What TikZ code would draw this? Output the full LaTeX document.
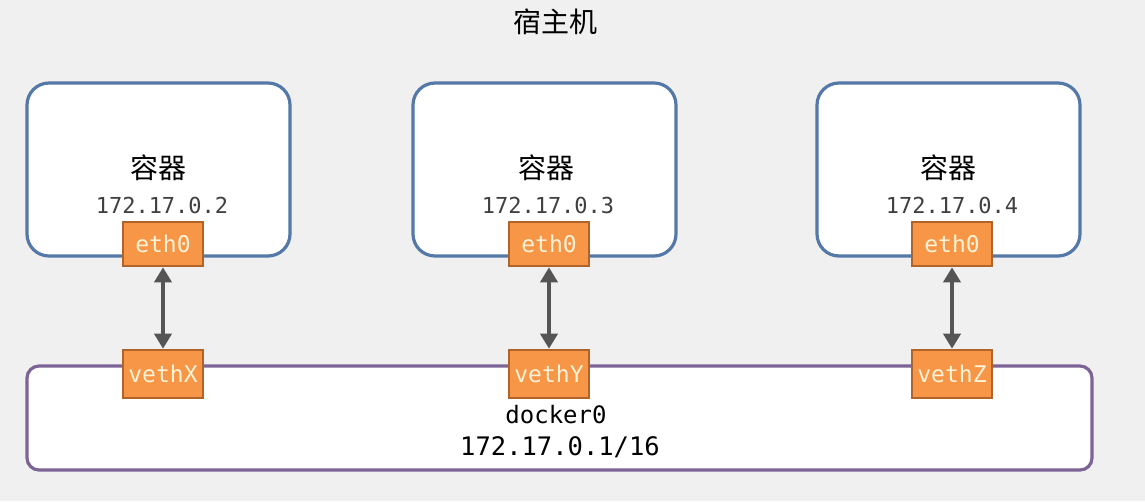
\documentclass[tikz,border=0pt]{standalone}
\usepackage{fontspec}
\setmonofont{DejaVu Sans Mono}
\newfontfamily\cjk{Noto Sans CJK SC}
\usetikzlibrary{arrows.meta}

\definecolor{fundo}{HTML}{F0F0F0}
\definecolor{azulborda}{HTML}{5478A8}
\definecolor{laranja}{HTML}{F79646}
\definecolor{laranjaborda}{HTML}{B0642A}
\definecolor{creme}{HTML}{FFF2D6}
\definecolor{roxo}{HTML}{7D6496}
\definecolor{cinzaseta}{HTML}{555555}
\definecolor{cinzatexto}{HTML}{404040}

\begin{document}
\begin{tikzpicture}[x=1pt, y=-1pt]

  % ── Estilos ────────────────────────────────────────────────
  \tikzset{
    container/.style = {draw=azulborda, line width=3.2pt, fill=white, rounded corners=22pt,
                        minimum width=263pt, minimum height=173pt, inner sep=0pt},
    bridge/.style    = {draw=roxo, line width=3.2pt, fill=white, rounded corners=12pt,
                        minimum width=1065pt, minimum height=104pt, inner sep=0pt},
    iface/.style     = {draw=laranjaborda, line width=2.6pt, fill=laranja, text=creme,
                        font=\ttfamily\fontsize{23}{25}\selectfont,
                        minimum width=80pt, inner sep=0pt},
    titulo/.style    = {font=\cjk\fontsize{28}{32}\selectfont, text=black},
    ip/.style        = {font=\ttfamily\fontsize{22}{24}\selectfont, text=cinzatexto},
    link/.style      = {draw=cinzaseta, line width=4pt,
                        {Triangle[width=17pt,length=15pt]}-{Triangle[width=17pt,length=15pt]}}
  }

  % fundo e margens
  \useasboundingbox[fill=fundo] (0,0) rectangle (1145,501);

  % =========================================================
  % 1. HOSPEDEIRO E CONTAINERS
  % =========================================================
  \node[titulo] (host) at (555,22) {宿主机};

  \node[container] (box1) at (158.5,169.5) {};
  \node[container] (box2) at (544.5,169.5) {};
  \node[container] (box3) at (948.5,169.5) {};

  \node[titulo] (name1) at (158,168) {容器};
  \node[titulo] (name2) at (546,168) {容器};
  \node[titulo] (name3) at (948,168) {容器};

  \node[ip] (ip1) at (162,205) {172.17.0.2};
  \node[ip] (ip2) at (548,205) {172.17.0.3};
  \node[ip] (ip3) at (952,205) {172.17.0.4};

  % interfaces eth0
  \node[iface, minimum height=44pt] (eth1) at (163,244) {eth0};
  \node[iface, minimum height=44pt] (eth2) at (549,244) {eth0};
  \node[iface, minimum height=44pt] (eth3) at (952,244) {eth0};

  % =========================================================
  % 2. BRIDGE docker0
  % =========================================================
  \node[bridge] (docker) at (559.5,418) {};
  \node[font=\ttfamily\fontsize{24}{26}\selectfont] (dname) at (556,415) {docker0};
  \node[font=\ttfamily\fontsize{25.5}{28}\selectfont] (dip) at (560,447) {172.17.0.1/16};

  \node[iface, minimum height=48pt] (vethX) at (163,374) {vethX};
  \node[iface, minimum height=48pt] (vethY) at (549,374) {vethY};
  \node[iface, minimum height=48pt] (vethZ) at (952,374) {vethZ};

  % pares veth
  \draw[link] (eth1.south) -- (vethX.north);
  \draw[link] (eth2.south) -- (vethY.north);
  \draw[link] (eth3.south) -- (vethZ.north);

\end{tikzpicture}
\end{document}
